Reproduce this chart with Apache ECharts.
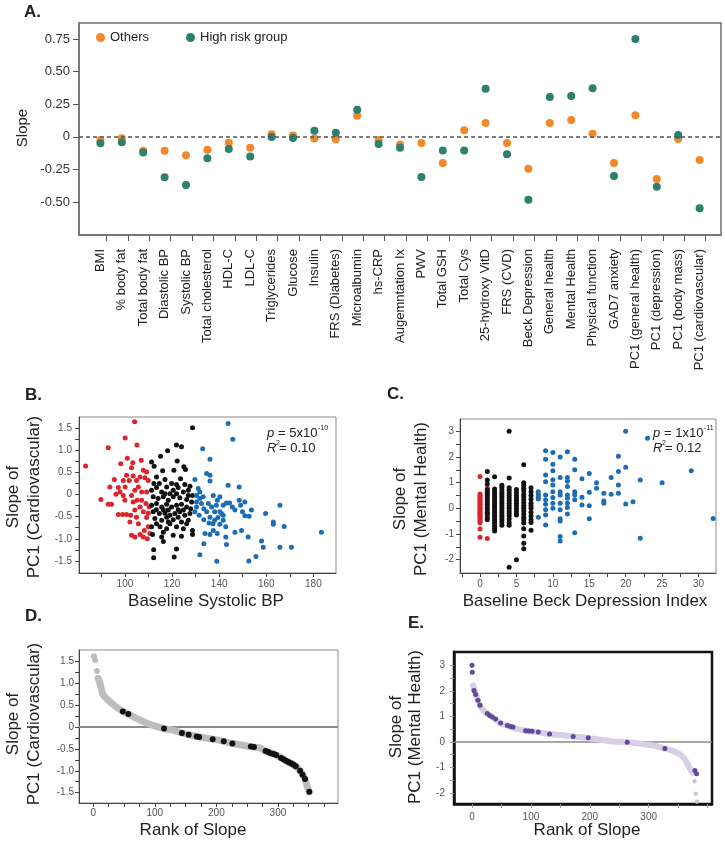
<!DOCTYPE html>
<html><head><meta charset="utf-8">
<script src="https://cdn.jsdelivr.net/npm/echarts@6/dist/echarts.min.js"></script>
<style>html,body{margin:0;padding:0;background:#fff}#c{width:725px;height:845px}</style>
</head><body><div id="c"></div>
<script>
// ---------- Panel A ----------
const catsA = ['BMI','% body fat','Total body fat','Diastolic BP','Systolic BP','Total cholesterol','HDL-C','LDL-C','Triglycerides','Glucose','Insulin','FRS (Diabetes)','Microalbumin','hs-CRP','Augemntation Ix','PWV','Total GSH','Total Cys','25-hydroxy VitD','FRS (CVD)','Beck Depression','General health','Mental Health','Physical function','GAD7 anxiety','PC1 (general health)','PC1 (depression)','PC1 (body mass)','PC1 (cardiovascular)'];
const othersA = [-0.025,-0.01,-0.107,-0.107,-0.142,-0.099,-0.045,-0.083,0.019,0.011,-0.012,-0.019,0.162,-0.025,-0.058,-0.048,-0.2,0.05,0.106,-0.048,-0.245,0.106,0.129,0.024,-0.2,0.165,-0.324,-0.017,-0.178];
const highRiskA = [-0.05,-0.042,-0.12,-0.31,-0.37,-0.165,-0.094,-0.15,-0.002,-0.009,0.047,0.032,0.208,-0.055,-0.083,-0.308,-0.104,-0.104,0.369,-0.134,-0.482,0.305,0.313,0.372,-0.3,0.75,-0.383,0.014,-0.548];
const ticksA = [-0.5,-0.25,0,0.25,0.5,0.75];

// ---------- Panel B (x: baseline systolic BP, y: slope of PC1 cardiovascular) ----------
const bRed = [[83.3,0.65],[104.1,1.65],[100.1,1.28],[92.9,1.06],[105.1,1.12],[101,0.82],[98.2,0.70],[103.3,0.72],[106.9,0.78],[102.8,0.61],[95.5,0.34],[93.6,0.17],[89.8,-0.11],[92.9,-0.22],[94.3,-0.22],[97.2,-0.45],[99,-0.45],[100.7,-0.45],[97.2,0.16],[96.2,0.01],[99.3,-0.02],[100.1,0.17],[101.8,0.32],[103.5,0.42],[104.9,0.32],[106.4,0.40],[108.5,0.38],[109.9,0.32],[109.2,0.51],[107.8,0.55],[100.7,0.44],[99.3,0.32],[97.9,0.06],[100,-0.13],[102.8,-0.02],[104.2,0.10],[105.7,0.17],[107.1,0.06],[109.2,0.06],[103.5,-0.17],[105.2,-0.13],[107.1,-0.13],[108.9,-0.20],[110.3,-0.28],[106.4,-0.28],[104.2,-0.35],[107.8,-0.39],[109.9,-0.42],[102.4,-0.47],[104.9,-0.51],[109.2,-0.52],[104.2,-0.96],[106.4,-0.90],[107.8,-0.96],[109.5,-1.0],[102.8,-0.92],[109.9,-0.73],[108.2,-0.81],[110.6,-0.88],[102.1,-0.62],[105.7,-0.66]];
const bBlack = [[128.7,1.51],[121.9,1.12],[124,1.08],[118.1,0.99],[115.1,0.87],[111.3,0.74],[112.4,0.64],[116,0.54],[120.8,0.55],[122.2,0.76],[125,0.63],[125.7,0.57],[113.4,0.40],[117,0.34],[123.6,0.36],[119.8,0.25],[111.3,0.10],[113.4,0.16],[115.6,0.06],[117.7,0.17],[120.5,0.10],[122.6,0.16],[124.8,0.06],[126.9,0.10],[128.7,-0.02],[112,-0.05],[114.1,-0.09],[116.3,-0.05],[118.4,-0.13],[120.5,-0.05],[123.3,-0.07],[126.2,-0.11],[128.3,-0.17],[111.3,-0.24],[113.4,-0.20],[115.6,-0.28],[117.7,-0.22],[119.8,-0.28],[121.9,-0.24],[124,-0.22],[126.2,-0.28],[127.9,-0.32],[112,-0.39],[114.6,-0.43],[117,-0.42],[119.1,-0.47],[121.2,-0.43],[123.3,-0.39],[125.4,-0.47],[127.6,-0.43],[112.7,-0.54],[115.6,-0.58],[118.4,-0.62],[120.5,-0.57],[124,-0.62],[126.9,-0.58],[111.3,-0.73],[114.9,-0.73],[117.7,-0.77],[121.9,-0.73],[124.8,-0.77],[128.7,-0.81],[128.7,-0.90],[111.7,-0.90],[115.6,-0.96],[116.3,-1.06],[120.5,-0.92],[124,-0.94],[112.2,-1.25],[112.2,-1.43],[120.9,-1.41],[121.9,-1.23],[112.3,0.25],[114.6,0.25],[121.9,0.23],[125.4,0.23],[127.6,0.19],[117,0.02],[119.1,0.02],[121.9,0.02],[126.9,-0.02],[113.3,-0.34],[116.3,-0.34],[118.4,-0.35],[122.6,-0.34],[124.8,-0.35],[117.7,-0.51],[122.6,-0.51],[126.2,-0.66],[113.4,-0.66],[116.3,-0.85],[119.1,-0.66]];
const bBlue = [[143.8,1.61],[145.8,1.25],[133,1.04],[136.1,0.80],[134.7,0.48],[136.1,0.44],[136.1,0.31],[129.7,0.34],[131.1,0.14],[131.8,0.06],[130.4,-0.02],[131.8,-0.09],[130.4,-0.17],[132.5,-0.20],[133.5,-0.32],[130.4,-0.28],[129.7,-0.39],[131.5,-0.47],[134.7,-0.39],[136.8,-0.28],[135.4,-0.20],[133.2,-0.05],[137.5,-0.02],[139.2,-0.13],[140.3,-0.05],[143.8,0.21],[141.7,-0.24],[143.1,-0.19],[138.8,-0.24],[138.1,-0.39],[140.3,-0.39],[136.1,-0.51],[138.1,-0.58],[139.5,-0.52],[141.7,-0.58],[137.4,-0.66],[135.7,-0.64],[133.5,-0.57],[140.3,-0.67],[142.8,-0.73],[145.6,-0.28],[146.7,-0.35],[148.5,0.17],[148.5,-0.13],[149.1,-0.24],[150.9,-0.17],[149.9,-0.39],[150.9,-0.48],[152.7,-0.49],[153.7,-0.35],[149.5,-0.81],[146.7,-0.85],[142.8,-0.96],[139.2,-0.88],[137.5,-0.81],[136.1,-0.90],[134,-0.88],[133.5,-1.11],[131.8,-1.36],[139,-1.51],[143.1,-1.13],[152.3,-0.96],[152.6,-1.50],[155.6,-1.40],[158,-1.05],[158.7,-1.19],[159.7,-0.43],[163,-0.62],[163,-0.67],[165.8,-0.24],[167.6,-0.72],[165.8,-1.19],[170.7,-1.19],[183.4,-0.85],[141.7,-0.47],[141,-0.43],[144.4,-0.19]];

// ---------- Panel C (x: baseline Beck depression index, y: slope of PC1 mental health) ----------
const cRedColumns = [
  [0,[1.24,0.56,0.5,0.43,0.38,0.31,0.27,0.2,0.16,0.1,0.04,0.0,-0.05,-0.12,-0.16,-0.22,-0.27,-0.33,-0.38,-0.45,-0.5,-0.56,-0.81,-1.13]],
  [1,[0.78,0.66,0.52,0.3,-0.2,-1.18]]
];
const cBlackColumns = [
  [1,[1.43,1.1,0.95,0.72,0.6,0.48,0.38,0.25,0.15,0.05,-0.05,-0.15,-0.25,-0.36,-0.45]],
  [2,[1.23,0.75,0.65,0.55,0.45,0.36,0.27,0.18,0.1,0.02,-0.07,-0.15,-0.24,-0.32,-0.42,-0.5,-0.6,-0.7,-0.8,-0.88]],
  [3,[0.9,0.82,0.72,0.63,0.54,0.45,0.36,0.27,0.18,0.09,0.0,-0.09,-0.18,-0.27,-0.36,-0.45,-0.55,-0.66]],
  [4,[3.0,1.18,0.8,0.7,0.6,0.5,0.4,0.3,0.2,0.1,0.0,-0.1,-0.2,-0.3,-0.42,-0.55,-0.66,-2.3]],
  [5,[0.73,0.62,0.5,0.4,0.3,0.2,0.1,0.0,-0.1,-0.2,-0.26,-2.0]],
  [6,[1.7,1.0,0.9,0.78,0.68,0.55,0.45,0.33,0.22,0.1,0.0,-0.1,-0.22,-0.35,-0.45,-0.57,-0.8,-1.08,-1.36,-1.58]],
  [7,[0.8,0.65,0.5,0.35,0.2,0.1,0.0,-0.15,-0.3,-0.45,-0.55,-0.85]]
];
const cBlueColumns = [
  [8,[0.65,0.55,0.45,0.36,-0.35]],
  [9,[2.24,1.91,1.3,1.04,0.52,0.33,0.16,-0.06,-0.26,-0.65]],
  [10,[2.17,1.72,1.46,1.11,0.91,0.65,0.42,0.2,0.0]],
  [11,[2.0,1.2,0.65,0.52,0.2,-0.06,-0.41,-0.49,-1.1,-1.27]],
  [12,[2.2,1.2,1.05,0.85,0.52,0.39,0.2,0.03,-0.22]],
  [13,[1.91,1.5,0.65,0.52,0.33,-0.95]],
  [14,[1.15,0.43,0.13]],
  [15,[1.36,0.63,0.1,-0.41]],
  [16,[1.0,0.78]],
  [17,[0.59,0.29,0.2]],
  [18,[1.2,0.55]],
  [19,[2.03,1.43,0.91,0.59]],
  [20,[3.0,1.6,0.17]],
  [21,[0.26]],
  [22,[1.1,-1.17]],
  [23,[2.73]],
  [25,[1.0]],
  [29,[1.46]],
  [32,[-0.4]]
];

// ---------- Panel D (rank of slope, PC1 cardiovascular) ----------
const dCurve = [[8,1.1],[10,1.03],[13,0.88],[16,0.73],[24,0.61],[35,0.48],[48,0.35],[57,0.29],[72,0.18],[89,0.07],[102,0.01],[115,-0.04],[132,-0.085],[144,-0.14],[155,-0.18],[172,-0.23],[194,-0.28],[212,-0.33],[226,-0.38],[243,-0.42],[256,-0.45],[270,-0.48],[280,-0.55],[297,-0.64],[313,-0.77],[329,-0.9],[336,-1.0],[344,-1.19],[348,-1.38],[351,-1.48]];
const dTopGray = [[1,1.61],[3,1.52],[6,1.27],[8,1.11]];
const dBlack = [[48,0.35],[57,0.29],[115,-0.04],[144,-0.14],[155,-0.18],[168,-0.22],[172,-0.23],[194,-0.28],[212,-0.33],[226,-0.38],[256,-0.45],[261,-0.46],[280,-0.55],[284,-0.57],[288,-0.6],[293,-0.62],[297,-0.64],[305,-0.71],[309,-0.74],[313,-0.77],[317,-0.8],[321,-0.83],[325,-0.86],[329,-0.9],[336,-1.0],[340,-1.09],[344,-1.19],[351,-1.48]];

// ---------- Panel E (rank of slope, PC1 mental health) ----------
const eCurve = [[2,2.22],[5,1.95],[10,1.63],[14,1.4],[20,1.22],[26,1.1],[34,0.98],[48,0.74],[60,0.64],[76,0.51],[91,0.44],[110,0.39],[132,0.31],[156,0.25],[172,0.21],[200,0.14],[235,0.03],[264,-0.01],[280,-0.05],[314,-0.17],[328,-0.26],[343,-0.37],[355,-0.52],[360,-0.63],[368,-0.95],[374,-1.2]];
const eTail = [[378,-1.54],[380,-2.03],[382,-2.33]];
const ePurple = [[0,3.0],[0.5,2.73],[3.3,2.01],[6.2,1.86],[10.1,1.63],[13.5,1.44],[26,1.11],[30,1.03],[34.5,0.98],[40,0.9],[48.6,0.74],[60,0.64],[65.5,0.6],[69.5,0.58],[91,0.44],[96.7,0.43],[102,0.42],[112.5,0.39],[131.7,0.31],[171.8,0.21],[197.3,0.16],[263.5,-0.01],[327.5,-0.26],[378.5,-1.12],[381.3,-1.25]];

// ---------- build ----------
const FONT = 'Liberation Sans, Arial, Helvetica, sans-serif';
const expand = cols => cols.flatMap(([x, ys]) => ys.map(y => [x, y]));
const range = (a, b, s) => { const r = []; for (let v = a; v <= b + 1e-9; v += s) r.push(+v.toFixed(4)); return r; };

function T(x, y, text, size, o) {
  o = o || {};
  return { type: 'text', x: x, y: y, rotation: o.rot || 0, z: 100,
    style: { text: text, fontSize: size, fontFamily: FONT,
      fontWeight: o.bold ? 'bold' : 'normal', fontStyle: o.italic ? 'italic' : 'normal',
      fill: o.color || '#222', align: o.align || 'left', textAlign: o.align || 'left',
      verticalAlign: 'middle', textVerticalAlign: 'middle' } };
}
const R = Math.PI / 2;

function axis(gi, min, max, labelVals, tickVals, fmt, o) {
  o = o || {};
  return { type: 'value', gridIndex: gi, min: min, max: max, scale: true,
    splitLine: { show: false },
    axisLine: { show: true, onZero: false, lineStyle: { color: o.lineColor || '#444', width: o.lineWidth || 1 } },
    axisTick: { show: true, customValues: tickVals, length: o.tickLen || 4, lineStyle: { color: o.tickColor || '#444' } },
    axisLabel: { show: true, customValues: labelVals, formatter: fmt, fontSize: o.fontSize || 10,
      color: o.labelColor || '#555', fontFamily: FONT, margin: o.margin || 6,
      rotate: o.rotate || 0, showMinLabel: true, showMaxLabel: true }
  };
}

const fmtA = v => Math.abs(v) < 1e-9 ? '0' : v.toFixed(2);
const fmt1 = v => Math.abs(v) < 1e-9 ? '0' : v.toFixed(1);
const fmt0 = v => String(Math.round(v));
const catIdx = catsA.map((_, i) => i + 1);
const fmtCat = v => catsA[Math.round(v) - 1] || '';

const orange = '#f2882a', teal = '#2d7f6e';
const red = '#d9252b', black = '#121212', blue = '#1c6db3';

const option = {
  animation: false,
  backgroundColor: '#fff',
  textStyle: { fontFamily: FONT },
  legend: { data: ['Others', 'High risk group'], left: 91, top: 26, icon: 'circle',
    itemWidth: 9, itemHeight: 9, itemGap: 37, textStyle: { fontSize: 13, color: '#222', fontFamily: FONT } },
  grid: [
    { left: 79, top: 23, width: 642, height: 212, show: true, borderColor: '#707070', borderWidth: 1.5, containLabel: false },
    { left: 79, top: 417, width: 257, height: 156, show: true, borderColor: '#8c8c8c', borderWidth: 1 },
    { left: 460, top: 419, width: 256, height: 154, show: true, borderColor: '#8c8c8c', borderWidth: 1 },
    { left: 79, top: 650, width: 259, height: 153, show: true, borderColor: '#8c8c8c', borderWidth: 1 },
    { left: 454, top: 652, width: 258, height: 152, show: true, borderColor: '#111', borderWidth: 2.5 }
  ],
  xAxis: [
    axis(0, 0, 30, catIdx, catIdx.map(v => v + 0.28), fmtCat, { rotate: 90, fontSize: 13, labelColor: '#222', margin: 14, tickLen: 6, lineColor: '#707070', lineWidth: 1.5, tickColor: '#555' }),
    axis(1, 80.5, 189.6, [100, 120, 140, 160, 180], range(90, 180, 10), fmt0, { margin: 6 }),
    axis(2, -2.75, 32.4, range(0, 30, 5), range(-2.5, 30, 2.5), fmt0, { margin: 6 }),
    axis(3, -23.2, 397.6, [0, 100, 200, 300], range(0, 375, 25), fmt0, { margin: 5 }),
    axis(4, -30.6, 407.5, [0, 100, 200, 300], range(0, 400, 50), fmt0, { margin: 8, lineColor: '#111', lineWidth: 2.5, tickColor: '#999' })
  ],
  yAxis: [
    axis(0, -0.753, 0.873, ticksA, ticksA, fmtA, { fontSize: 13, labelColor: '#333', margin: 9, tickLen: 6, lineColor: '#707070', lineWidth: 1.5, tickColor: '#555' }),
    axis(1, -1.774, 1.756, range(-1.5, 1.5, 0.5), range(-1.5, 1.5, 0.25), fmt1, { margin: 7 }),
    axis(2, -2.52, 3.48, range(-2, 3, 1), range(-2, 3, 0.5), fmt0, { margin: 6 }),
    axis(3, -1.734, 1.75, range(-1.5, 1.5, 0.5), range(-1.5, 1.5, 0.25), fmt1, { margin: 5 }),
    axis(4, -2.43, 3.52, range(-2, 3, 1), range(-2, 3, 0.5), fmt0, { margin: 9, lineColor: '#111', lineWidth: 2.5, tickColor: '#999' })
  ],
  series: [
    { name: 'Others', type: 'scatter', xAxisIndex: 0, yAxisIndex: 0, symbolSize: 8, itemStyle: { color: orange, opacity: 1 },
      data: othersA.map((v, i) => [i + 1, v]),
      markLine: { silent: true, symbol: 'none', label: { show: false }, lineStyle: { type: [4, 3], color: '#555', width: 1.5 }, data: [{ yAxis: 0 }] } },
    { name: 'High risk group', type: 'scatter', xAxisIndex: 0, yAxisIndex: 0, symbolSize: 8, itemStyle: { color: teal, opacity: 1 },
      data: highRiskA.map((v, i) => [i + 1, v]) },

    { type: 'scatter', xAxisIndex: 1, yAxisIndex: 1, symbolSize: 5, itemStyle: { color: red, opacity: 1 }, data: bRed },
    { type: 'scatter', xAxisIndex: 1, yAxisIndex: 1, symbolSize: 5, itemStyle: { color: black, opacity: 1 }, data: bBlack },
    { type: 'scatter', xAxisIndex: 1, yAxisIndex: 1, symbolSize: 5, itemStyle: { color: blue, opacity: 1 }, data: bBlue },

    { type: 'scatter', xAxisIndex: 2, yAxisIndex: 2, symbolSize: 5, itemStyle: { color: red, opacity: 1 }, data: expand(cRedColumns) },
    { type: 'scatter', xAxisIndex: 2, yAxisIndex: 2, symbolSize: 5, itemStyle: { color: black, opacity: 1 }, data: expand(cBlackColumns) },
    { type: 'scatter', xAxisIndex: 2, yAxisIndex: 2, symbolSize: 5, itemStyle: { color: blue, opacity: 1 }, data: expand(cBlueColumns) },

    { type: 'line', xAxisIndex: 3, yAxisIndex: 3, data: dCurve, smooth: 0.3, showSymbol: false, z: 3,
      lineStyle: { color: '#bdbdbd', width: 7, cap: 'round', join: 'round' },
      markLine: { silent: true, symbol: 'none', label: { show: false }, z: 1, lineStyle: { type: 'solid', color: '#8a8a8a', width: 2 }, data: [{ yAxis: 0 }] } },
    { type: 'scatter', xAxisIndex: 3, yAxisIndex: 3, symbolSize: 6, z: 4, itemStyle: { color: '#bdbdbd', opacity: 1 }, data: dTopGray },
    { type: 'scatter', xAxisIndex: 3, yAxisIndex: 3, symbolSize: 6, z: 5, itemStyle: { color: black, opacity: 1 }, data: dBlack },

    { type: 'line', xAxisIndex: 4, yAxisIndex: 4, data: eCurve, smooth: 0.3, showSymbol: false, z: 3,
      lineStyle: { color: '#d8cfe4', width: 6, cap: 'round', join: 'round' },
      markLine: { silent: true, symbol: 'none', label: { show: false }, z: 1, lineStyle: { type: 'solid', color: '#8a8a8a', width: 1.5 }, data: [{ yAxis: 0 }] } },
    { type: 'scatter', xAxisIndex: 4, yAxisIndex: 4, symbolSize: 4.5, z: 4, itemStyle: { color: '#cfc6dc', opacity: 1 }, data: eTail },
    { type: 'scatter', xAxisIndex: 4, yAxisIndex: 4, symbolSize: 5, z: 5, itemStyle: { color: '#5d4a9b', opacity: 1 }, data: ePurple }
  ],
  graphic: [
    T(24, 12, 'A.', 17, { bold: true }),
    T(23, 128, 'Slope', 15, { rot: R, align: 'center' }),

    T(25, 395, 'B.', 17, { bold: true }),
    T(13, 497, 'Slope of', 17, { rot: R, align: 'center' }),
    T(34, 497, 'PC1 (Cardiovascular)', 17, { rot: R, align: 'center' }),
    T(206, 601, 'Baseline Systolic BP', 17, { align: 'center' }),
    T(267, 433, 'p', 13, { italic: true }),
    T(278, 433, '= 5x10', 13),
    T(318, 428, '-10', 7),
    T(267, 448, 'R', 13, { italic: true }),
    T(276, 443, '2', 7),
    T(279, 448, '= 0.10', 13),

    T(387, 394, 'C.', 17, { bold: true }),
    T(400, 499, 'Slope of', 17, { rot: R, align: 'center' }),
    T(421, 499, 'PC1 (Mental Health)', 17, { rot: R, align: 'center' }),
    T(585, 601, 'Baseline Beck Depression Index', 17, { align: 'center' }),
    T(653, 433, 'p', 13, { italic: true }),
    T(664, 433, '= 1x10', 13),
    T(704, 428, '-11', 7),
    T(653, 448, 'R', 13, { italic: true }),
    T(662, 443, '2', 7),
    T(665, 448, '= 0.12', 13),

    T(25, 616, 'D.', 17, { bold: true }),
    T(13, 724, 'Slope of', 17, { rot: R, align: 'center' }),
    T(34, 724, 'PC1 (Cardiovascular)', 17, { rot: R, align: 'center' }),
    T(193, 830, 'Rank of Slope', 17, { align: 'center' }),

    T(408, 623, 'E.', 17, { bold: true }),
    T(396, 727, 'Slope of', 17, { rot: R, align: 'center' }),
    T(415, 727, 'PC1 (Mental Health)', 17, { rot: R, align: 'center' }),
    T(587, 830, 'Rank of Slope', 17, { align: 'center' })
  ]
};

const chart = echarts.init(document.getElementById('c'), null, { renderer: 'canvas', width: 725, height: 845 });
chart.setOption(option);
</script>
</body></html>
